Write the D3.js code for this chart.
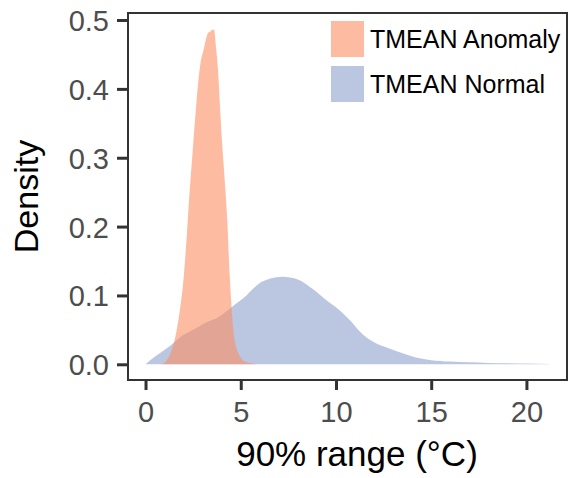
<!DOCTYPE html>
<html>
<head>
<meta charset="utf-8">
<script src="https://cdn.jsdelivr.net/npm/d3@7"></script>
<style>
  html, body { margin: 0; padding: 0; background: #fff; }
  svg { display: block; }
  text { font-family: "Liberation Sans", Arial, sans-serif; }
</style>
</head>
<body>
<svg id="chart" width="570" height="478"></svg>
<script>
// ---- data ----
const seriesNames = ["TMEAN Anomaly", "TMEAN Normal"];
const seriesColors = ["#FC8D62", "#8DA0CB"];

const anomalyX = [0.8, 0.95, 1.1, 1.25, 1.4, 1.55, 1.7, 1.85, 2.0, 2.15, 2.3, 2.45, 2.6, 2.75, 2.9, 3.05, 3.2, 3.3, 3.4, 3.5, 3.6, 3.7, 3.8, 3.9, 4.0, 4.1, 4.2, 4.3, 4.4, 4.5, 4.6, 4.7, 4.8, 4.95, 5.1, 5.3, 5.6, 6.0];
const anomalyY = [0, 0.001, 0.005, 0.012, 0.023, 0.038, 0.060, 0.088, 0.125, 0.180, 0.245, 0.300, 0.355, 0.405, 0.440, 0.457, 0.475, 0.482, 0.483, 0.486, 0.486, 0.460, 0.430, 0.380, 0.330, 0.290, 0.250, 0.205, 0.140, 0.090, 0.052, 0.032, 0.021, 0.012, 0.006, 0.003, 0.001, 0];

const normalX = [0, 0.25, 0.75, 1.3, 1.9, 2.5, 3.2, 3.8, 4.3, 4.8, 5.3, 5.7, 6.0, 6.4, 6.8, 7.2, 7.6, 8.0, 8.4, 8.8, 9.2, 9.6, 10.0, 10.4, 10.8, 11.2, 11.6, 12.0, 12.8, 13.5, 14.2, 15.0, 16.0, 17.0, 18.0, 19.0, 20.0, 21.2];
const normalY = [0, 0.006, 0.016, 0.027, 0.041, 0.050, 0.061, 0.068, 0.078, 0.089, 0.100, 0.111, 0.118, 0.123, 0.126, 0.127, 0.126, 0.123, 0.117, 0.109, 0.100, 0.091, 0.083, 0.073, 0.062, 0.049, 0.039, 0.032, 0.023, 0.016, 0.010, 0.006, 0.004, 0.0028, 0.002, 0.0014, 0.001, 0.0004];

const xTicks = [0, 5, 10, 15, 20];
const yTicks = [0, 0.1, 0.2, 0.3, 0.4, 0.5];
const xTitle = "90% range (°C)";
const yTitle = "Density";

// ---- layout ----
const panel = { left: 128, top: 13, right: 567, bottom: 380 };
const svg = d3.select("#chart");

const x = d3.scaleLinear().domain([-0.92, 22.13]).range([panel.left, panel.right]);
const y = d3.scaleLinear().domain([-0.0228, 0.5102]).range([panel.bottom, panel.top]);

svg.append("defs").append("clipPath").attr("id", "clip")
  .append("rect")
  .attr("x", panel.left).attr("y", panel.top)
  .attr("width", panel.right - panel.left).attr("height", panel.bottom - panel.top);

const area = d3.area()
  .x(d => x(d[0]))
  .y0(y(0))
  .y1(d => y(d[1]))
  .curve(d3.curveMonotoneX);

const anomaly = anomalyX.map((v, i) => [v, anomalyY[i]]);
const normal = normalX.map((v, i) => [v, normalY[i]]);

const g = svg.append("g").attr("clip-path", "url(#clip)");
g.append("path").datum(normal).attr("d", area)
  .attr("fill", seriesColors[1]).attr("fill-opacity", 0.6);
g.append("path").datum(anomaly).attr("d", area)
  .attr("fill", seriesColors[0]).attr("fill-opacity", 0.6);

// panel border
svg.append("rect")
  .attr("x", panel.left).attr("y", panel.top)
  .attr("width", panel.right - panel.left).attr("height", panel.bottom - panel.top)
  .attr("fill", "none").attr("stroke", "#333").attr("stroke-width", 2);

// axes
const xAxis = svg.append("g").attr("transform", `translate(0,${panel.bottom})`)
  .call(d3.axisBottom(x).tickValues(xTicks).tickFormat(d3.format("d")).tickSizeOuter(0).tickSize(10).tickPadding(10));
const yAxis = svg.append("g").attr("transform", `translate(${panel.left},0)`)
  .call(d3.axisLeft(y).tickValues(yTicks).tickFormat(d3.format(".1f")).tickSizeOuter(0).tickSize(11).tickPadding(8));

[xAxis, yAxis].forEach(a => {
  a.select(".domain").remove();
  a.selectAll(".tick line").attr("stroke", "#333").attr("stroke-width", 3);
  a.selectAll(".tick text").attr("fill", "#4D4D4D").style("font-size", "29px");
});
xAxis.selectAll(".tick text").attr("dy", "0.75em");
yAxis.selectAll(".tick text").attr("dy", "0.36em");

// axis titles
svg.append("text")
  .attr("x", 357).attr("y", 466)
  .attr("text-anchor", "middle")
  .style("font-size", "35px").attr("fill", "#000")
  .text(xTitle);

svg.append("text")
  .attr("transform", `translate(38,${(panel.top + panel.bottom) / 2}) rotate(-90)`)
  .attr("text-anchor", "middle")
  .style("font-size", "34px").attr("fill", "#000")
  .text(yTitle);

// legend
const legend = svg.append("g");
seriesNames.forEach((name, i) => {
  const ly = 21 + i * 45;
  legend.append("rect")
    .attr("x", 331).attr("y", ly).attr("width", 33).attr("height", 36)
    .attr("fill", seriesColors[i]).attr("fill-opacity", 0.6);
  legend.append("text")
    .attr("x", 370).attr("y", ly + 18).attr("dy", "0.36em")
    .style("font-size", "25px").attr("fill", "#000")
    .text(name);
});
</script>
</body>
</html>
